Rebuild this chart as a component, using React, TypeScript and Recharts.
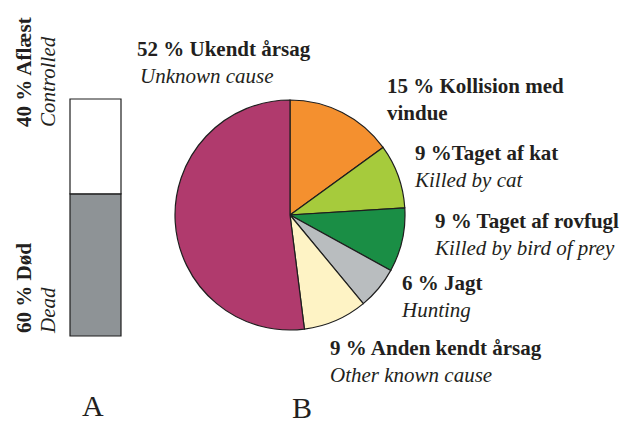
import { BarChart, Bar, XAxis, YAxis, LabelList, PieChart, Pie, Cell } from 'recharts';

// A: status of recovered birds
const statusKeys = ['dead', 'controlled'];
const statusPct = [60, 40];
const statusDa = ['Død', 'Aflæst'];
const statusEn = ['Dead', 'Controlled'];
const statusColors = ['#8e9396', '#ffffff'];

// B: causes of death, clockwise from 12 o'clock
const causePct = [15, 9, 9, 6, 9, 52];
const causeDa = ['Kollision med vindue', 'Taget af kat', 'Taget af rovfugl', 'Jagt', 'Anden kendt årsag', 'Ukendt årsag'];
const causeEn = ['', 'Killed by cat', 'Killed by bird of prey', 'Hunting', 'Other known cause', 'Unknown cause'];
const causeSep = [' ', '', ' ', ' ', ' ', ' '];
const causeColors = ['#f4902f', '#a6cb3c', '#1a8e45', '#b9bdbf', '#fef3c5', '#b03a6d'];

const FONT = "'Liberation Serif'";
const INK = '#231f20';

// label anchor (first baseline) relative to pie centre
const LABEL_AT = [
  { dx: 97, dy: -122 },
  { dx: 125, dy: -55 },
  { dx: 145, dy: 13 },
  { dx: 112, dy: 75 },
  { dx: 40, dy: 140 },
  { dx: -153, dy: -159 },
];

const barRow: Record<string, string | number> = { name: 'A' };
statusKeys.forEach((k, i) => (barRow[k] = statusPct[i]));
const barData = [barRow];

const pieData = causePct.map((v, i) => ({ name: causeDa[i], value: v }));

const boldStyle = { fontFamily: FONT, fontSize: 21, fontWeight: 700, fill: INK };
const italicStyle = { fontFamily: FONT, fontSize: 21, fontStyle: 'italic', fill: INK };

function StatusLabel(i: number) {
  return (props: any) => {
    const { y, height } = props;
    // text runs bottom-to-top, starting near the lower end of the segment
    const start = i === 0 ? y + height - 3 : y + 28;
    return (
      <g transform={`translate(0, ${start}) rotate(-90)`}>
        <text x={0} y={31} style={boldStyle}>
          {statusPct[i]} % {statusDa[i]}
        </text>
        <text x={0} y={55} style={italicStyle}>
          {statusEn[i]}
        </text>
      </g>
    );
  };
}

function renderCauseLabel(props: any) {
  const { cx, cy, index } = props;
  const at = LABEL_AT[index];
  const x = cx + at.dx;
  const y = cy + at.dy;
  const bold = `${causePct[index]} %${causeSep[index]}${causeDa[index]}`;
  let lines: { t: string; italic: boolean }[];
  if (causeEn[index]) {
    lines = [
      { t: bold, italic: false },
      { t: causeEn[index], italic: true },
    ];
  } else {
    const cut = bold.lastIndexOf(' ');
    lines = [
      { t: bold.slice(0, cut), italic: false },
      { t: bold.slice(cut + 1), italic: false },
    ];
  }
  return (
    <g key={`lbl-${index}`}>
      {lines.map((l, j) => (
        <text
          key={j}
          x={x + (l.italic && index === 5 ? 3 : 0)}
          y={y + j * 27}
          textAnchor="start"
          style={l.italic ? italicStyle : boldStyle}
        >
          {l.t}
        </text>
      ))}
    </g>
  );
}

export default function App() {
  return (
    <div style={{ position: 'absolute', left: 0, top: 0, width: 630, height: 422, background: '#fff', fontFamily: FONT }}>
      <div style={{ position: 'absolute', left: 0, top: 0 }}>
        <PieChart width={630} height={422} margin={{ top: 0, right: 0, bottom: 0, left: 0 }}>
          <Pie
            data={pieData}
            dataKey="value"
            cx={290}
            cy={215}
            outerRadius={115}
            startAngle={90}
            endAngle={-270}
            stroke="#1e1e1e"
            strokeWidth={1.2}
            label={renderCauseLabel}
            labelLine={false}
            isAnimationActive={false}
          >
            {pieData.map((_, i) => (
              <Cell key={i} fill={causeColors[i]} />
            ))}
          </Pie>
        </PieChart>
      </div>
      <div style={{ position: 'absolute', left: 0, top: 0 }}>
        <BarChart
          width={140}
          height={422}
          data={barData}
          margin={{ top: 99, bottom: 86, left: 70, right: 19 }}
          barCategoryGap={0}
        >
          <XAxis dataKey="name" hide />
          <YAxis hide domain={[0, 100]} />
          {statusKeys.map((k, i) => (
            <Bar
              key={k}
              dataKey={k}
              stackId="s"
              fill={statusColors[i]}
              stroke="#1e1e1e"
              strokeWidth={1.2}
              isAnimationActive={false}
            >
              <LabelList dataKey={k} content={StatusLabel(i)} />
            </Bar>
          ))}
        </BarChart>
      </div>
      <div style={{ position: 'absolute', left: 82, top: 393, fontSize: 30, lineHeight: '26px', color: INK }}>
        {barRow.name}
      </div>
      <div style={{ position: 'absolute', left: 292, top: 395, fontSize: 30, lineHeight: '26px', color: INK }}>
        B
      </div>
    </div>
  );
}
